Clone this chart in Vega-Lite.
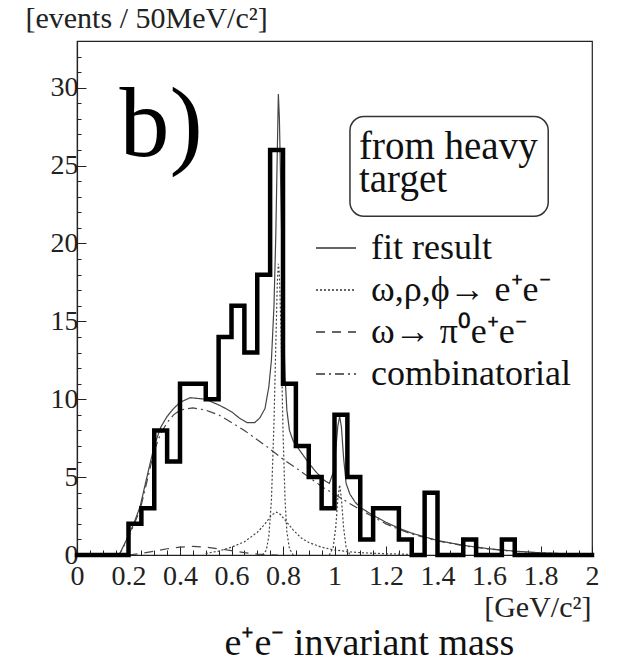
{
  "$schema": "https://vega.github.io/schema/vega-lite/v6.json",
  "width": 515,
  "height": 514,
  "autosize": "none",
  "padding": {"left": 77, "top": 41, "right": 30, "bottom": 112},
  "background": "white",
  "config": {
    "font": "Liberation Serif",
    "view": {"stroke": "#222", "strokeWidth": 1.2}
  },
  "title": {
    "text": "e⁺e⁻ invariant mass",
    "orient": "bottom",
    "font": "Liberation Serif",
    "fontSize": 38,
    "fontWeight": "normal",
    "color": "#111",
    "dx": 35,
    "offset": 3
  },
  "datasets": {
    "hist": [
      {"m": 0.00, "n": 0}, {"m": 0.05, "n": 0}, {"m": 0.10, "n": 0}, {"m": 0.15, "n": 0},
      {"m": 0.20, "n": 2}, {"m": 0.25, "n": 3}, {"m": 0.30, "n": 8}, {"m": 0.35, "n": 6},
      {"m": 0.40, "n": 11}, {"m": 0.45, "n": 11}, {"m": 0.50, "n": 10}, {"m": 0.55, "n": 14},
      {"m": 0.60, "n": 16}, {"m": 0.65, "n": 13}, {"m": 0.70, "n": 18}, {"m": 0.75, "n": 26},
      {"m": 0.80, "n": 11}, {"m": 0.85, "n": 7}, {"m": 0.90, "n": 5}, {"m": 0.95, "n": 3},
      {"m": 1.00, "n": 9}, {"m": 1.05, "n": 5}, {"m": 1.10, "n": 1}, {"m": 1.15, "n": 3},
      {"m": 1.20, "n": 3}, {"m": 1.25, "n": 1}, {"m": 1.30, "n": 0}, {"m": 1.35, "n": 4},
      {"m": 1.40, "n": 0}, {"m": 1.45, "n": 0}, {"m": 1.50, "n": 1}, {"m": 1.55, "n": 0},
      {"m": 1.60, "n": 0}, {"m": 1.65, "n": 1}, {"m": 1.70, "n": 0}, {"m": 1.75, "n": 0},
      {"m": 1.80, "n": 0}, {"m": 1.85, "n": 0}, {"m": 1.90, "n": 0}, {"m": 1.95, "n": 0},
      {"m": 2.00, "n": 0}
    ],
    "curves": [
      {"curve": "fit", "comp": "fit result", "m": 0.15, "y": 0},
      {"curve": "fit", "comp": "fit result", "m": 0.165, "y": 0.05},
      {"curve": "fit", "comp": "fit result", "m": 0.19, "y": 0.9},
      {"curve": "fit", "comp": "fit result", "m": 0.22, "y": 2.0},
      {"curve": "fit", "comp": "fit result", "m": 0.245, "y": 3.1},
      {"curve": "fit", "comp": "fit result", "m": 0.27, "y": 4.9},
      {"curve": "fit", "comp": "fit result", "m": 0.3, "y": 7.0},
      {"curve": "fit", "comp": "fit result", "m": 0.325, "y": 8.2},
      {"curve": "fit", "comp": "fit result", "m": 0.35, "y": 8.9},
      {"curve": "fit", "comp": "fit result", "m": 0.375, "y": 9.4},
      {"curve": "fit", "comp": "fit result", "m": 0.4, "y": 9.8},
      {"curve": "fit", "comp": "fit result", "m": 0.44, "y": 10.1},
      {"curve": "fit", "comp": "fit result", "m": 0.5, "y": 10.0},
      {"curve": "fit", "comp": "fit result", "m": 0.555, "y": 9.6},
      {"curve": "fit", "comp": "fit result", "m": 0.6, "y": 9.2},
      {"curve": "fit", "comp": "fit result", "m": 0.63, "y": 8.8},
      {"curve": "fit", "comp": "fit result", "m": 0.66, "y": 8.5},
      {"curve": "fit", "comp": "fit result", "m": 0.69, "y": 8.5},
      {"curve": "fit", "comp": "fit result", "m": 0.71, "y": 8.8},
      {"curve": "fit", "comp": "fit result", "m": 0.73, "y": 9.4},
      {"curve": "fit", "comp": "fit result", "m": 0.745, "y": 10.8},
      {"curve": "fit", "comp": "fit result", "m": 0.755, "y": 12.5},
      {"curve": "fit", "comp": "fit result", "m": 0.765, "y": 16},
      {"curve": "fit", "comp": "fit result", "m": 0.772, "y": 20.5},
      {"curve": "fit", "comp": "fit result", "m": 0.778, "y": 26},
      {"curve": "fit", "comp": "fit result", "m": 0.782, "y": 29.6},
      {"curve": "fit", "comp": "fit result", "m": 0.786, "y": 28},
      {"curve": "fit", "comp": "fit result", "m": 0.792, "y": 23},
      {"curve": "fit", "comp": "fit result", "m": 0.8, "y": 16},
      {"curve": "fit", "comp": "fit result", "m": 0.808, "y": 11.5},
      {"curve": "fit", "comp": "fit result", "m": 0.815, "y": 9.3},
      {"curve": "fit", "comp": "fit result", "m": 0.825, "y": 8.0},
      {"curve": "fit", "comp": "fit result", "m": 0.84, "y": 7.3},
      {"curve": "fit", "comp": "fit result", "m": 0.87, "y": 6.6},
      {"curve": "fit", "comp": "fit result", "m": 0.9, "y": 5.9},
      {"curve": "fit", "comp": "fit result", "m": 0.93, "y": 5.3},
      {"curve": "fit", "comp": "fit result", "m": 0.96, "y": 4.8},
      {"curve": "fit", "comp": "fit result", "m": 0.98, "y": 4.6},
      {"curve": "fit", "comp": "fit result", "m": 0.995, "y": 5.3},
      {"curve": "fit", "comp": "fit result", "m": 1.005, "y": 6.8},
      {"curve": "fit", "comp": "fit result", "m": 1.013, "y": 8.3},
      {"curve": "fit", "comp": "fit result", "m": 1.02, "y": 8.9},
      {"curve": "fit", "comp": "fit result", "m": 1.027, "y": 8.2},
      {"curve": "fit", "comp": "fit result", "m": 1.035, "y": 6.3},
      {"curve": "fit", "comp": "fit result", "m": 1.045, "y": 4.6},
      {"curve": "fit", "comp": "fit result", "m": 1.06, "y": 3.9},
      {"curve": "fit", "comp": "fit result", "m": 1.08, "y": 3.4},
      {"curve": "fit", "comp": "fit result", "m": 1.1, "y": 3.05},
      {"curve": "fit", "comp": "fit result", "m": 1.15, "y": 2.55},
      {"curve": "fit", "comp": "fit result", "m": 1.2, "y": 2.1},
      {"curve": "fit", "comp": "fit result", "m": 1.25, "y": 1.72},
      {"curve": "fit", "comp": "fit result", "m": 1.3, "y": 1.4},
      {"curve": "fit", "comp": "fit result", "m": 1.4, "y": 0.93},
      {"curve": "fit", "comp": "fit result", "m": 1.5, "y": 0.62},
      {"curve": "fit", "comp": "fit result", "m": 1.6, "y": 0.4},
      {"curve": "fit", "comp": "fit result", "m": 1.7, "y": 0.25},
      {"curve": "fit", "comp": "fit result", "m": 1.8, "y": 0.14},
      {"curve": "fit", "comp": "fit result", "m": 1.9, "y": 0.08},
      {"curve": "fit", "comp": "fit result", "m": 2.0, "y": 0.05},

      {"curve": "omega", "comp": "ω,ρ,ϕ→ e⁺e⁻", "m": 0.72, "y": 0},
      {"curve": "omega", "comp": "ω,ρ,ϕ→ e⁺e⁻", "m": 0.735, "y": 0.3},
      {"curve": "omega", "comp": "ω,ρ,ϕ→ e⁺e⁻", "m": 0.745, "y": 1.2},
      {"curve": "omega", "comp": "ω,ρ,ϕ→ e⁺e⁻", "m": 0.755, "y": 3.5},
      {"curve": "omega", "comp": "ω,ρ,ϕ→ e⁺e⁻", "m": 0.765, "y": 8.5},
      {"curve": "omega", "comp": "ω,ρ,ϕ→ e⁺e⁻", "m": 0.772, "y": 13.5},
      {"curve": "omega", "comp": "ω,ρ,ϕ→ e⁺e⁻", "m": 0.778, "y": 17.5},
      {"curve": "omega", "comp": "ω,ρ,ϕ→ e⁺e⁻", "m": 0.782, "y": 18.7},
      {"curve": "omega", "comp": "ω,ρ,ϕ→ e⁺e⁻", "m": 0.786, "y": 18},
      {"curve": "omega", "comp": "ω,ρ,ϕ→ e⁺e⁻", "m": 0.792, "y": 14.5},
      {"curve": "omega", "comp": "ω,ρ,ϕ→ e⁺e⁻", "m": 0.8, "y": 8},
      {"curve": "omega", "comp": "ω,ρ,ϕ→ e⁺e⁻", "m": 0.808, "y": 3.5},
      {"curve": "omega", "comp": "ω,ρ,ϕ→ e⁺e⁻", "m": 0.815, "y": 1.5},
      {"curve": "omega", "comp": "ω,ρ,ϕ→ e⁺e⁻", "m": 0.825, "y": 0.4},
      {"curve": "omega", "comp": "ω,ρ,ϕ→ e⁺e⁻", "m": 0.84, "y": 0},

      {"curve": "rho", "comp": "ω,ρ,ϕ→ e⁺e⁻", "m": 0.5, "y": 0.1},
      {"curve": "rho", "comp": "ω,ρ,ϕ→ e⁺e⁻", "m": 0.55, "y": 0.25},
      {"curve": "rho", "comp": "ω,ρ,ϕ→ e⁺e⁻", "m": 0.6, "y": 0.5},
      {"curve": "rho", "comp": "ω,ρ,ϕ→ e⁺e⁻", "m": 0.65, "y": 0.85},
      {"curve": "rho", "comp": "ω,ρ,ϕ→ e⁺e⁻", "m": 0.7, "y": 1.45},
      {"curve": "rho", "comp": "ω,ρ,ϕ→ e⁺e⁻", "m": 0.73, "y": 2.0},
      {"curve": "rho", "comp": "ω,ρ,ϕ→ e⁺e⁻", "m": 0.755, "y": 2.55},
      {"curve": "rho", "comp": "ω,ρ,ϕ→ e⁺e⁻", "m": 0.775, "y": 2.75},
      {"curve": "rho", "comp": "ω,ρ,ϕ→ e⁺e⁻", "m": 0.79, "y": 2.6},
      {"curve": "rho", "comp": "ω,ρ,ϕ→ e⁺e⁻", "m": 0.81, "y": 2.2},
      {"curve": "rho", "comp": "ω,ρ,ϕ→ e⁺e⁻", "m": 0.84, "y": 1.6},
      {"curve": "rho", "comp": "ω,ρ,ϕ→ e⁺e⁻", "m": 0.87, "y": 1.1},
      {"curve": "rho", "comp": "ω,ρ,ϕ→ e⁺e⁻", "m": 0.9, "y": 0.8},
      {"curve": "rho", "comp": "ω,ρ,ϕ→ e⁺e⁻", "m": 0.95, "y": 0.5},
      {"curve": "rho", "comp": "ω,ρ,ϕ→ e⁺e⁻", "m": 1.0, "y": 0.32},
      {"curve": "rho", "comp": "ω,ρ,ϕ→ e⁺e⁻", "m": 1.05, "y": 0.22},
      {"curve": "rho", "comp": "ω,ρ,ϕ→ e⁺e⁻", "m": 1.1, "y": 0.15},
      {"curve": "rho", "comp": "ω,ρ,ϕ→ e⁺e⁻", "m": 1.2, "y": 0.08},
      {"curve": "rho", "comp": "ω,ρ,ϕ→ e⁺e⁻", "m": 1.3, "y": 0.04},

      {"curve": "phi", "comp": "ω,ρ,ϕ→ e⁺e⁻", "m": 0.98, "y": 0},
      {"curve": "phi", "comp": "ω,ρ,ϕ→ e⁺e⁻", "m": 0.995, "y": 0.5},
      {"curve": "phi", "comp": "ω,ρ,ϕ→ e⁺e⁻", "m": 1.005, "y": 1.8},
      {"curve": "phi", "comp": "ω,ρ,ϕ→ e⁺e⁻", "m": 1.013, "y": 3.6},
      {"curve": "phi", "comp": "ω,ρ,ϕ→ e⁺e⁻", "m": 1.02, "y": 4.5},
      {"curve": "phi", "comp": "ω,ρ,ϕ→ e⁺e⁻", "m": 1.027, "y": 3.6},
      {"curve": "phi", "comp": "ω,ρ,ϕ→ e⁺e⁻", "m": 1.035, "y": 1.8},
      {"curve": "phi", "comp": "ω,ρ,ϕ→ e⁺e⁻", "m": 1.045, "y": 0.5},
      {"curve": "phi", "comp": "ω,ρ,ϕ→ e⁺e⁻", "m": 1.06, "y": 0},

      {"curve": "dalitz", "comp": "ω→ π⁰e⁺e⁻", "m": 0.2, "y": 0},
      {"curve": "dalitz", "comp": "ω→ π⁰e⁺e⁻", "m": 0.25, "y": 0.1},
      {"curve": "dalitz", "comp": "ω→ π⁰e⁺e⁻", "m": 0.3, "y": 0.25},
      {"curve": "dalitz", "comp": "ω→ π⁰e⁺e⁻", "m": 0.35, "y": 0.4},
      {"curve": "dalitz", "comp": "ω→ π⁰e⁺e⁻", "m": 0.4, "y": 0.5},
      {"curve": "dalitz", "comp": "ω→ π⁰e⁺e⁻", "m": 0.45, "y": 0.55},
      {"curve": "dalitz", "comp": "ω→ π⁰e⁺e⁻", "m": 0.5, "y": 0.5},
      {"curve": "dalitz", "comp": "ω→ π⁰e⁺e⁻", "m": 0.55, "y": 0.4},
      {"curve": "dalitz", "comp": "ω→ π⁰e⁺e⁻", "m": 0.6, "y": 0.28},
      {"curve": "dalitz", "comp": "ω→ π⁰e⁺e⁻", "m": 0.65, "y": 0.15},
      {"curve": "dalitz", "comp": "ω→ π⁰e⁺e⁻", "m": 0.7, "y": 0.06},
      {"curve": "dalitz", "comp": "ω→ π⁰e⁺e⁻", "m": 0.75, "y": 0.01},
      {"curve": "dalitz", "comp": "ω→ π⁰e⁺e⁻", "m": 0.78, "y": 0},

      {"curve": "comb", "comp": "combinatorial", "m": 0.15, "y": 0},
      {"curve": "comb", "comp": "combinatorial", "m": 0.165, "y": 0.05},
      {"curve": "comb", "comp": "combinatorial", "m": 0.19, "y": 0.8},
      {"curve": "comb", "comp": "combinatorial", "m": 0.22, "y": 1.9},
      {"curve": "comb", "comp": "combinatorial", "m": 0.245, "y": 2.9},
      {"curve": "comb", "comp": "combinatorial", "m": 0.27, "y": 4.6},
      {"curve": "comb", "comp": "combinatorial", "m": 0.3, "y": 6.7},
      {"curve": "comb", "comp": "combinatorial", "m": 0.325, "y": 7.8},
      {"curve": "comb", "comp": "combinatorial", "m": 0.35, "y": 8.5},
      {"curve": "comb", "comp": "combinatorial", "m": 0.375, "y": 9.0},
      {"curve": "comb", "comp": "combinatorial", "m": 0.4, "y": 9.3},
      {"curve": "comb", "comp": "combinatorial", "m": 0.45, "y": 9.45},
      {"curve": "comb", "comp": "combinatorial", "m": 0.5, "y": 9.3},
      {"curve": "comb", "comp": "combinatorial", "m": 0.55, "y": 9.0},
      {"curve": "comb", "comp": "combinatorial", "m": 0.6, "y": 8.5},
      {"curve": "comb", "comp": "combinatorial", "m": 0.65, "y": 8.0},
      {"curve": "comb", "comp": "combinatorial", "m": 0.7, "y": 7.4},
      {"curve": "comb", "comp": "combinatorial", "m": 0.75, "y": 6.8},
      {"curve": "comb", "comp": "combinatorial", "m": 0.8, "y": 6.15},
      {"curve": "comb", "comp": "combinatorial", "m": 0.85, "y": 5.6},
      {"curve": "comb", "comp": "combinatorial", "m": 0.9, "y": 5.0},
      {"curve": "comb", "comp": "combinatorial", "m": 0.95, "y": 4.4},
      {"curve": "comb", "comp": "combinatorial", "m": 1.0, "y": 3.9},
      {"curve": "comb", "comp": "combinatorial", "m": 1.05, "y": 3.4},
      {"curve": "comb", "comp": "combinatorial", "m": 1.1, "y": 2.9},
      {"curve": "comb", "comp": "combinatorial", "m": 1.15, "y": 2.45},
      {"curve": "comb", "comp": "combinatorial", "m": 1.2, "y": 2.0},
      {"curve": "comb", "comp": "combinatorial", "m": 1.25, "y": 1.65},
      {"curve": "comb", "comp": "combinatorial", "m": 1.3, "y": 1.35},
      {"curve": "comb", "comp": "combinatorial", "m": 1.4, "y": 0.9},
      {"curve": "comb", "comp": "combinatorial", "m": 1.5, "y": 0.6},
      {"curve": "comb", "comp": "combinatorial", "m": 1.6, "y": 0.38},
      {"curve": "comb", "comp": "combinatorial", "m": 1.7, "y": 0.23},
      {"curve": "comb", "comp": "combinatorial", "m": 1.8, "y": 0.13},
      {"curve": "comb", "comp": "combinatorial", "m": 1.9, "y": 0.07},
      {"curve": "comb", "comp": "combinatorial", "m": 2.0, "y": 0.04}
    ],
    "box": [{"x1": 1.06, "x2": 1.83, "y1": 21.75, "y2": 28.15}],
    "boxtext": [
      {"label": "from heavy", "m": 1.095, "y": 25.45},
      {"label": "target", "m": 1.095, "y": 23.3}
    ],
    "tag": [{"label": "b)", "m": 0.165, "y": 25.6}]
  },
  "encoding": {
    "x": {
      "type": "quantitative",
      "scale": {"domain": [0, 2], "nice": false, "zero": false},
      "axis": {
        "values": [0, 0.05, 0.1, 0.15, 0.2, 0.25, 0.3, 0.35, 0.4, 0.45, 0.5, 0.55, 0.6, 0.65, 0.7, 0.75, 0.8, 0.85, 0.9, 0.95, 1.0, 1.05, 1.1, 1.15, 1.2, 1.25, 1.3, 1.35, 1.4, 1.45, 1.5, 1.55, 1.6, 1.65, 1.7, 1.75, 1.8, 1.85, 1.9, 1.95, 2.0],
        "labelExpr": "abs(datum.value*5 - round(datum.value*5)) < 0.001 ? format(datum.value, '~g') : ''",
        "labelOverlap": false,
        "labelFlush": false,
        "labelFont": "Liberation Serif",
        "labelFontSize": 28,
        "labelColor": "#222",
        "labelPadding": 16,
        "grid": false,
        "domainColor": "#222",
        "domainWidth": 1.2,
        "tickColor": "#222",
        "tickSize": {"condition": {"test": "abs(datum.value*5 - round(datum.value*5)) < 0.001", "value": -9}, "value": -5},
        "title": "[GeV/c²]",
        "titleFont": "Liberation Serif",
        "titleFontSize": 30,
        "titleFontWeight": "normal",
        "titleColor": "#222",
        "titleAlign": "right",
        "titleBaseline": "alphabetic",
        "titleAnchor": "end",
        "titleX": 514,
        "titleY": 61
      }
    },
    "y": {
      "type": "quantitative",
      "scale": {"domain": [0, 33], "nice": false, "zero": true},
      "axis": {
        "values": [0, 1, 2, 3, 4, 5, 6, 7, 8, 9, 10, 11, 12, 13, 14, 15, 16, 17, 18, 19, 20, 21, 22, 23, 24, 25, 26, 27, 28, 29, 30, 31, 32],
        "labelExpr": "datum.value % 5 === 0 ? format(datum.value, 'd') : ''",
        "labelOverlap": false,
        "labelFlush": false,
        "labelFont": "Liberation Serif",
        "labelFontSize": 28,
        "labelColor": "#222",
        "labelPadding": 8,
        "grid": false,
        "domainColor": "#222",
        "domainWidth": 1.2,
        "tickColor": "#222",
        "tickSize": {"condition": {"test": "datum.value % 5 === 0", "value": -9}, "value": -4},
        "title": "[events / 50MeV/c²]",
        "titleFont": "Liberation Serif",
        "titleFontSize": 30,
        "titleFontWeight": "normal",
        "titleColor": "#222",
        "titleAngle": 0,
        "titleAlign": "left",
        "titleBaseline": "alphabetic",
        "titleX": -52,
        "titleY": -14
      }
    }
  },
  "layer": [
    {
      "data": {"name": "curves"},
      "mark": {"type": "line", "color": "#444", "strokeWidth": 1.2, "clip": true},
      "encoding": {
        "x": {"field": "m", "type": "quantitative"},
        "y": {"field": "y", "type": "quantitative"},
        "detail": {"field": "curve"},
        "strokeDash": {
          "field": "comp",
          "type": "nominal",
          "scale": {
            "domain": ["fit result", "ω,ρ,ϕ→ e⁺e⁻", "ω→ π⁰e⁺e⁻", "combinatorial"],
            "range": [[1, 0], [2, 2], [9, 7], [9, 4, 2, 4]]
          },
          "legend": {
            "orient": "none",
            "legendX": 238,
            "legendY": 186,
            "title": null,
            "symbolType": "stroke",
            "symbolSize": 1600,
            "symbolStrokeWidth": 1.3,
            "symbolStrokeColor": "#333",
            "labelFont": "Liberation Serif",
            "labelFontSize": 36,
            "labelColor": "#111",
            "labelOffset": 14,
            "labelLimit": 400,
            "rowPadding": 3
          }
        }
      }
    },
    {
      "data": {"name": "hist"},
      "mark": {"type": "line", "interpolate": "step-after", "color": "#000", "strokeWidth": 4.5, "strokeJoin": "miter", "strokeCap": "square"},
      "encoding": {
        "x": {"field": "m", "type": "quantitative"},
        "y": {"field": "n", "type": "quantitative"}
      }
    },
    {
      "data": {"name": "box"},
      "mark": {"type": "rect", "fill": "white", "stroke": "#333", "strokeWidth": 1.5, "cornerRadius": 14},
      "encoding": {
        "x": {"field": "x1", "type": "quantitative"},
        "x2": {"field": "x2"},
        "y": {"field": "y1", "type": "quantitative"},
        "y2": {"field": "y2"}
      }
    },
    {
      "data": {"name": "boxtext"},
      "mark": {"type": "text", "align": "left", "baseline": "alphabetic", "font": "Liberation Serif", "fontSize": 39, "color": "#111"},
      "encoding": {
        "x": {"field": "m", "type": "quantitative"},
        "y": {"field": "y", "type": "quantitative"},
        "text": {"field": "label"}
      }
    },
    {
      "data": {"name": "tag"},
      "mark": {"type": "text", "align": "left", "baseline": "alphabetic", "font": "Liberation Serif", "fontSize": 100, "color": "#000"},
      "encoding": {
        "x": {"field": "m", "type": "quantitative"},
        "y": {"field": "y", "type": "quantitative"},
        "text": {"field": "label"}
      }
    }
  ]
}
